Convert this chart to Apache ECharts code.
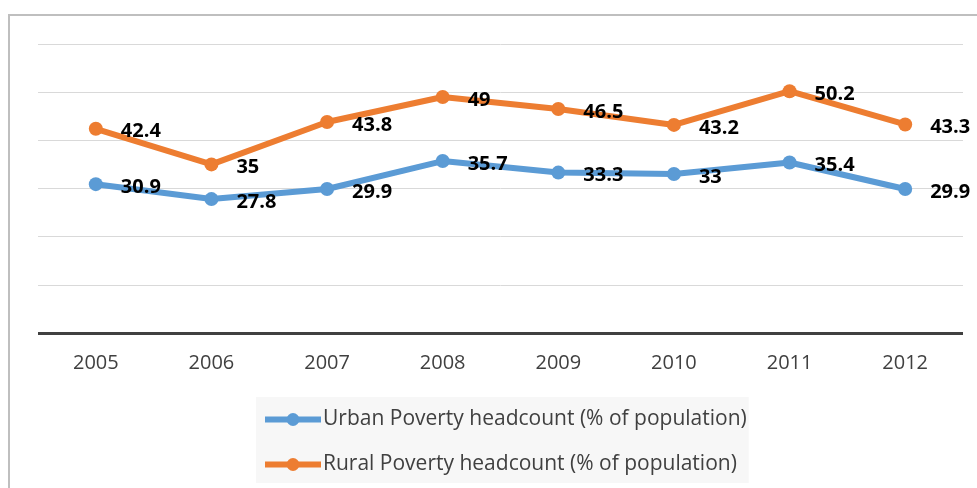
<!DOCTYPE html>
<html><head><meta charset="utf-8">
<script src="https://cdn.jsdelivr.net/npm/echarts@6/dist/echarts.min.js"></script>
<style>html,body{margin:0;padding:0;background:#fff}#c{width:977px;height:488px}</style>
</head><body><div id="c"></div>
<script>
const years = ['2005','2006','2007','2008','2009','2010','2011','2012'];
const urban = [30.9, 27.8, 29.9, 35.7, 33.3, 33, 35.4, 29.9];
const rural = [42.4, 35, 43.8, 49, 46.5, 43.2, 50.2, 43.3];
const seriesNames = ['Urban Poverty headcount (% of population)', 'Rural Poverty headcount (% of population)'];

const chart = echarts.init(document.getElementById('c'));
const font = '"Open Sans", sans-serif';
const lbl = {show:true, position:'right', distance:18, color:'#000', fontWeight:'bold', fontSize:20, fontFamily:font, offset:[0,3]};
chart.setOption({
  animation:false,
  graphic:[{type:'rect', shape:{x:9, y:15, width:980, height:490}, style:{fill:'none', stroke:'#bfbfbf', lineWidth:2}, z:-1}],
  grid:{left:38, right:14, top:44, bottom:155},
  xAxis:{type:'category', data:years, boundaryGap:true,
    axisLine:{symbol:'none', lineStyle:{color:'#404040', width:3, cap:'butt'}}, axisTick:{show:false},
    axisLabel:{color:'#404040', fontSize:20, fontFamily:font, margin:20}},
  yAxis:{type:'value', min:0, max:60, interval:10, axisLabel:{show:false},
    axisLine:{show:false}, axisTick:{show:false},
    splitLine:{lineStyle:{color:'#d9d9d9', width:1}}},
  legend:{orient:'vertical', left:256, top:397, itemGap:24, itemWidth:56, itemHeight:16,
    backgroundColor:'#f7f7f7', padding:[12,2,8,6],
    lineStyle:{width:6},
    textStyle:{color:'#404040', fontSize:21, fontFamily:font, padding:[0,0,0,-3]}},
  series:[
    {name:seriesNames[0], type:'line', data:urban, symbol:'circle', symbolSize:14,
     lineStyle:{width:6, color:'#5b9bd5'}, itemStyle:{color:'#5b9bd5'}, label:lbl},
    {name:seriesNames[1], type:'line', data:rural, symbol:'circle', symbolSize:14,
     lineStyle:{width:6, color:'#ed7d31'}, itemStyle:{color:'#ed7d31'}, label:lbl}
  ]
});
</script></body></html>
